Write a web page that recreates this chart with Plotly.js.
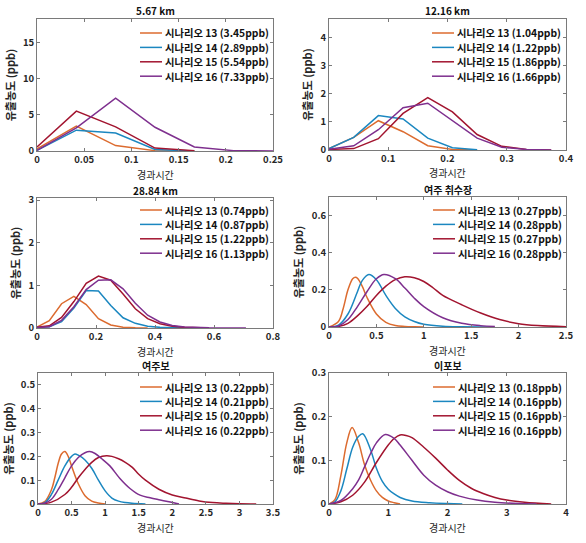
<!DOCTYPE html>
<html>
<head>
<meta charset="utf-8">
<script src="https://cdn.plot.ly/plotly-3.0.1.min.js"></script>
<style>html,body{margin:0;padding:0;background:#fff;}#chart{width:586px;height:543px;}</style>
</head>
<body>
<div id="chart"></div>
<script>
// ---- labels ----
const panelTitles = ["5.67 km", "12.16 km", "28.84 km", "여주 취수장", "여주보", "이포보"];
const scenarioNames = ["시나리오 13", "시나리오 14", "시나리오 15", "시나리오 16"];
const peakLabels = [
  ["3.45ppb", "2.89ppb", "5.54ppb", "7.33ppb"],
  ["1.04ppb", "1.22ppb", "1.86ppb", "1.66ppb"],
  ["0.74ppb", "0.87ppb", "1.22ppb", "1.13ppb"],
  ["0.27ppb", "0.28ppb", "0.27ppb", "0.28ppb"],
  ["0.22ppb", "0.21ppb", "0.20ppb", "0.22ppb"],
  ["0.18ppb", "0.16ppb", "0.16ppb", "0.16ppb"]
];
const xTitle = "경과시간";
const yTitle = "유출농도 (ppb)";

// ---- panel 1: 5.67 km ----
const p1x = [0, 0.0417, 0.0833, 0.125, 0.1667, 0.2083, 0.25];
const p1s13 = [0.3, 3.45, 0.75, 0.05, 0];
const p1s14 = [0.1, 2.89, 2.5, 0.2, 0];
const p1s15 = [0.55, 5.54, 3.35, 0.4, 0.05];
const p1s16 = [0.1, 3.2, 7.33, 3.3, 0.55, 0.05, 0];

// ---- panel 2: 12.16 km ----
const p2x = [0, 0.0417, 0.0833, 0.125, 0.1667, 0.2083, 0.25, 0.2917, 0.3333, 0.375];
const p2s13 = [0.05, 0.45, 1.04, 0.65, 0.15, 0.02, 0];
const p2s14 = [0.05, 0.45, 1.22, 1.1, 0.42, 0.08, 0.01];
const p2s15 = [0.02, 0.05, 0.4, 1.3, 1.86, 1.35, 0.55, 0.13, 0.02, 0];
const p2s16 = [0.03, 0.15, 0.72, 1.5, 1.66, 1.05, 0.42, 0.1, 0.02, 0];

// ---- panel 3: 28.84 km ----
const p3x = [0, 0.0417, 0.0833, 0.125, 0.1667, 0.2083, 0.25, 0.2917, 0.3333, 0.375, 0.4167, 0.4583, 0.5, 0.5417, 0.5833, 0.625, 0.6667, 0.7083];
const p3s13 = [0.02, 0.17, 0.57, 0.74, 0.55, 0.22, 0.07, 0.02, 0.005, 0];
const p3s14 = [0.01, 0.03, 0.15, 0.47, 0.88, 0.87, 0.53, 0.24, 0.11, 0.04, 0.015, 0.005, 0];
const p3s15 = [0.02, 0.05, 0.25, 0.62, 1.05, 1.22, 1.12, 0.8, 0.45, 0.22, 0.1, 0.04, 0.015, 0.005, 0];
const p3s16 = [0.01, 0.03, 0.18, 0.5, 0.9, 1.12, 1.13, 0.92, 0.58, 0.3, 0.14, 0.06, 0.025, 0.01, 0.004, 0.002, 0.001, 0];

// ---- panel 4: 여주 취수장 ----
const p4x13 = [0, 0.1, 0.15, 0.2, 0.25, 0.28, 0.3, 0.35, 0.4, 0.5, 0.6, 0.7, 0.8, 0.9, 1.0];
const p4s13 = [0, 0.03, 0.1, 0.2, 0.26, 0.268, 0.262, 0.22, 0.16, 0.07, 0.025, 0.008, 0.003, 0.001, 0];
const p4x14 = [0, 0.1, 0.2, 0.3, 0.35, 0.42, 0.5, 0.6, 0.7, 0.8, 0.9, 1.0, 1.2, 1.4, 1.7];
const p4s14 = [0, 0.01, 0.07, 0.19, 0.25, 0.283, 0.255, 0.17, 0.1, 0.055, 0.03, 0.015, 0.004, 0.001, 0];
const p4x15 = [0, 0.1, 0.2, 0.3, 0.4, 0.5, 0.6, 0.7, 0.8, 0.9, 1.0, 1.1, 1.2, 1.4, 1.6, 1.8, 2.0, 2.2, 2.5];
const p4s15 = [0, 0.003, 0.02, 0.06, 0.11, 0.17, 0.22, 0.255, 0.27, 0.265, 0.245, 0.21, 0.17, 0.12, 0.075, 0.04, 0.018, 0.008, 0.002];
const p4x16 = [0, 0.1, 0.2, 0.3, 0.4, 0.5, 0.58, 0.7, 0.8, 0.9, 1.0, 1.2, 1.4, 1.6, 1.75];
const p4s16 = [0, 0.005, 0.04, 0.11, 0.19, 0.26, 0.283, 0.26, 0.21, 0.155, 0.11, 0.05, 0.02, 0.007, 0.003];

// ---- panel 5: 여주보 ----
const p5x13 = [0, 0.1, 0.2, 0.25, 0.3, 0.35, 0.4, 0.45, 0.5, 0.6, 0.7, 0.8, 0.9, 1.0];
const p5s13 = [0, 0.01, 0.06, 0.11, 0.17, 0.21, 0.22, 0.2, 0.16, 0.085, 0.035, 0.012, 0.004, 0];
const p5x14 = [0, 0.1, 0.2, 0.3, 0.4, 0.5, 0.55, 0.6, 0.7, 0.8, 0.9, 1.0, 1.1, 1.2, 1.3, 1.4, 1.6];
const p5s14 = [0, 0.005, 0.04, 0.1, 0.16, 0.2, 0.21, 0.205, 0.185, 0.15, 0.1, 0.055, 0.025, 0.012, 0.006, 0.003, 0];
const p5x15 = [0, 0.2, 0.4, 0.5, 0.6, 0.7, 0.8, 0.9, 1.02, 1.1, 1.2, 1.3, 1.4, 1.5, 1.6, 1.8, 2.0, 2.2, 2.4, 2.6, 2.8, 3.0, 3.25];
const p5s15 = [0, 0.008, 0.04, 0.07, 0.11, 0.145, 0.175, 0.195, 0.203, 0.2, 0.19, 0.175, 0.155, 0.125, 0.1, 0.062, 0.038, 0.025, 0.013, 0.006, 0.003, 0.001, 0];
const p5x16 = [0, 0.1, 0.2, 0.3, 0.4, 0.5, 0.6, 0.7, 0.77, 0.85, 0.95, 1.07, 1.22, 1.37, 1.52, 1.67, 1.82, 1.97, 2.1];
const p5s16 = [0, 0.003, 0.02, 0.06, 0.11, 0.16, 0.195, 0.215, 0.22, 0.212, 0.19, 0.16, 0.107, 0.065, 0.037, 0.026, 0.017, 0.008, 0];

// ---- panel 6: 이포보 ----
const p6x13 = [0, 0.1, 0.2, 0.3, 0.39, 0.5, 0.6, 0.7, 0.8, 0.9, 1.0, 1.1, 1.2];
const p6s13 = [0, 0.01, 0.065, 0.14, 0.175, 0.14, 0.09, 0.055, 0.03, 0.015, 0.007, 0.003, 0];
const p6x14 = [0, 0.1, 0.2, 0.3, 0.4, 0.5, 0.57, 0.7, 0.8, 0.9, 1.0, 1.1, 1.2, 1.4, 1.7, 2.0, 2.25];
const p6s14 = [0, 0.005, 0.03, 0.08, 0.13, 0.155, 0.161, 0.125, 0.082, 0.052, 0.034, 0.023, 0.015, 0.007, 0.003, 0.001, 0];
const p6x15 = [0, 0.2, 0.4, 0.6, 0.8, 1.0, 1.1, 1.2, 1.3, 1.4, 1.6, 1.8, 2.0, 2.2, 2.4, 2.6, 2.8, 3.0, 3.3, 3.75];
const p6s15 = [0, 0.005, 0.02, 0.05, 0.095, 0.135, 0.15, 0.158, 0.157, 0.152, 0.13, 0.105, 0.078, 0.054, 0.036, 0.024, 0.015, 0.009, 0.004, 0];
const p6x16 = [0, 0.2, 0.4, 0.5, 0.6, 0.7, 0.8, 0.95, 1.1, 1.2, 1.4, 1.6, 1.8, 2.0, 2.2, 2.5, 2.8, 3.2, 3.5];
const p6s16 = [0, 0.008, 0.035, 0.055, 0.085, 0.115, 0.14, 0.159, 0.15, 0.135, 0.1, 0.066, 0.043, 0.028, 0.018, 0.009, 0.004, 0.001, 0];

// ---- axis settings (ranges / ticks) ----
const xRanges = [[0, 0.25], [0, 0.4], [0, 0.8], [0, 2.5], [0, 3.5], [0, 4]];
const xDticks = [0.05, 0.1, 0.2, 0.5, 0.5, 1];
const yRanges = [[0, 18.33], [0, 4.65], [0, 3.05], [0, 0.7], [0, 0.55], [0, 0.3]];
const yDticks = [5, 1, 1, 0.2, 0.1, 0.1];

// ---- build ----
const colors = ["#DC6B2F", "#1B87C0", "#A2142F", "#7E2F8E"];
const FONT = "Noto Sans CJK KR, Noto Sans, sans-serif";
const W = 586, H = 543;

const panelSeries = [
  [[p1x, p1s13], [p1x, p1s14], [p1x, p1s15], [p1x, p1s16]],
  [[p2x, p2s13], [p2x, p2s14], [p2x, p2s15], [p2x, p2s16]],
  [[p3x, p3s13], [p3x, p3s14], [p3x, p3s15], [p3x, p3s16]],
  [[p4x13, p4s13], [p4x14, p4s14], [p4x15, p4s15], [p4x16, p4s16]],
  [[p5x13, p5s13], [p5x14, p5s14], [p5x15, p5s15], [p5x16, p5s16]],
  [[p6x13, p6s13], [p6x14, p6s14], [p6x15, p6s15], [p6x16, p6s16]]
];

// panel boxes in pixels: [left, right, top, bottom]
const boxes = [
  [37, 273, 19, 151], [329, 566, 19, 150],
  [37, 273, 198, 328], [329, 566, 197, 327],
  [38, 273, 373, 504], [329, 566, 373, 504]
];
// legend key: line start x, first row centre y, row step
const legendPos = [[140, 33, 14.4], [432, 33, 14.4], [140, 210, 14.4], [433, 210, 14.4], [140, 387, 14.4], [433, 387, 14.4]];

const traces = [];
const layout = {
  width: W, height: H,
  margin: {l: 0, r: 0, t: 0, b: 0},
  paper_bgcolor: "#fff", plot_bgcolor: "#fff",
  font: {family: FONT, size: 11, color: "#262626"},
  showlegend: false,
  annotations: [],
  shapes: []
};

panelSeries.forEach((series, p) => {
  const xa = p === 0 ? "x" : "x" + (p + 1);
  const ya = p === 0 ? "y" : "y" + (p + 1);
  series.forEach((s, i) => {
    const xs = s[0].slice(0, s[1].length);
    const label = scenarioNames[i] + " (" + peakLabels[p][i] + ")";
    traces.push({
      type: "scatter", mode: "lines",
      x: xs, y: s[1], xaxis: xa, yaxis: ya,
      name: label, showlegend: false,
      line: {color: colors[i], width: 1.5, shape: p >= 3 ? "spline" : "linear", smoothing: 1},
      hoverinfo: "x+y"
    });
    // legend key (line sample + label)
    const lp = legendPos[p];
    const yc = 1 - (lp[1] + i * lp[2]) / H;
    layout.shapes.push({
      type: "line", xref: "paper", yref: "paper",
      x0: lp[0] / W, x1: (lp[0] + 22) / W, y0: yc, y1: yc,
      line: {color: colors[i], width: 1.5}
    });
    layout.annotations.push({
      text: label, xref: "paper", yref: "paper",
      x: (lp[0] + 23) / W, y: yc, xanchor: "left", yanchor: "middle",
      showarrow: false,
      font: {family: FONT, size: 10.3, color: "#111", weight: "bold"}
    });
  });
  const b = boxes[p];
  const xkey = p === 0 ? "xaxis" : "xaxis" + (p + 1);
  const ykey = p === 0 ? "yaxis" : "yaxis" + (p + 1);
  const common = {
    showline: true, mirror: "ticks", linecolor: "#7a7a7a", linewidth: 1,
    ticks: "inside", ticklen: 3, tickcolor: "#7a7a7a", tickwidth: 1,
    showgrid: false, zeroline: false, tickmode: "linear", tick0: 0,
    tickfont: {family: FONT, size: 9.5, color: "#262626", weight: "bold"}
  };
  layout[xkey] = Object.assign({}, common, {
    domain: [b[0] / W, b[1] / W], anchor: ya,
    range: xRanges[p], dtick: xDticks[p]
  });
  layout[ykey] = Object.assign({}, common, {
    domain: [1 - b[3] / H, 1 - b[2] / H], anchor: xa,
    range: yRanges[p], dtick: yDticks[p],
    title: {text: yTitle, font: {family: FONT, size: 11, color: "#262626", weight: "bold"}, standoff: 5}
  });
  // x-axis title (placed under the tick labels)
  layout.annotations.push({
    text: xTitle, xref: "paper", yref: "paper",
    x: (b[0] + b[1]) / 2 / W, y: 1 - (b[3] + 23) / H,
    xanchor: "center", yanchor: "middle", showarrow: false, borderpad: 0,
    font: {family: FONT, size: 10, color: "#262626"}
  });
  // panel title
  layout.annotations.push({
    text: panelTitles[p], xref: "paper", yref: "paper",
    x: (b[0] + b[1]) / 2 / W, y: 1 - (b[2] - 8) / H,
    xanchor: "center", yanchor: "middle", showarrow: false, borderpad: 0,
    font: {family: FONT, size: 10, color: "#111", weight: "bold"}
  });
});

Plotly.newPlot("chart", traces, layout, {staticPlot: true, displayModeBar: false});
</script>
</body>
</html>
